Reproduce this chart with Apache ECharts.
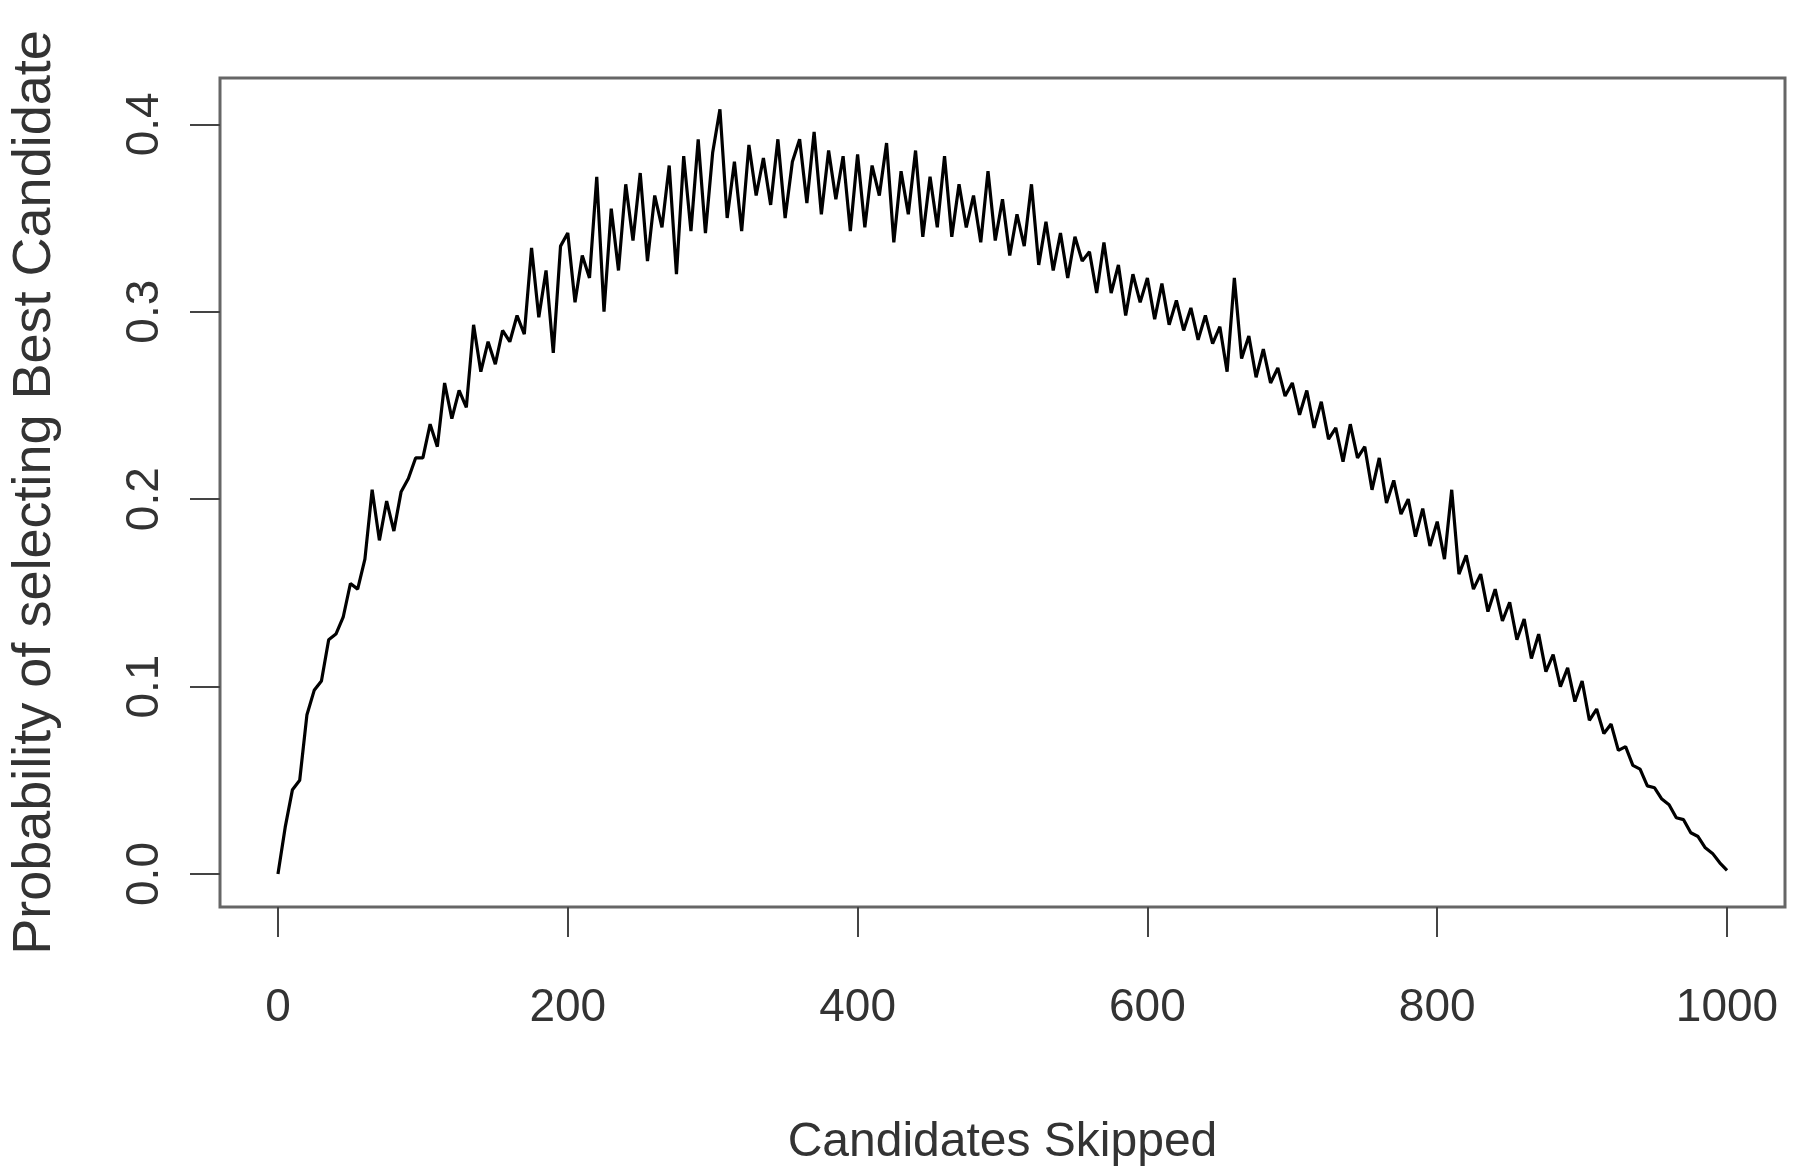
<!DOCTYPE html>
<html>
<head>
<meta charset="utf-8">
<script src="https://cdn.jsdelivr.net/npm/echarts@6/dist/echarts.min.js"></script>
<style>
  html, body { margin: 0; padding: 0; background: #fff; }
  #chart { width: 1799px; height: 1172px; }
</style>
</head>
<body>
<div id="chart"></div>
<script>
// Candidates skipped: every 5 from 0 to 1000
const skipStep = 5;
// Estimated probability of selecting the best candidate
const probability = [
  0.000, 0.025, 0.045, 0.050, 0.085, 0.098, 0.103, 0.125, 0.128, 0.137,
  0.155, 0.152, 0.168, 0.205, 0.178, 0.199, 0.183, 0.204, 0.211, 0.222,
  0.222, 0.240, 0.228, 0.262, 0.243, 0.258, 0.249, 0.293, 0.268, 0.284,
  0.272, 0.290, 0.284, 0.298, 0.288, 0.334, 0.297, 0.322, 0.278, 0.335,
  0.342, 0.305, 0.330, 0.318, 0.372, 0.300, 0.355, 0.322, 0.368, 0.338,
  0.374, 0.327, 0.362, 0.345, 0.378, 0.320, 0.383, 0.343, 0.392, 0.342,
  0.385, 0.408, 0.350, 0.380, 0.343, 0.389, 0.362, 0.382, 0.357, 0.392,
  0.350, 0.380, 0.392, 0.358, 0.396, 0.352, 0.386, 0.360, 0.383, 0.343,
  0.384, 0.345, 0.378, 0.362, 0.390, 0.337, 0.375, 0.352, 0.386, 0.340,
  0.372, 0.345, 0.383, 0.340, 0.368, 0.345, 0.362, 0.337, 0.375, 0.338,
  0.360, 0.330, 0.352, 0.335, 0.368, 0.325, 0.348, 0.322, 0.342, 0.318,
  0.340, 0.327, 0.332, 0.310, 0.337, 0.310, 0.325, 0.298, 0.320, 0.305,
  0.318, 0.296, 0.315, 0.293, 0.306, 0.290, 0.302, 0.285, 0.298, 0.283,
  0.292, 0.268, 0.318, 0.275, 0.287, 0.265, 0.280, 0.262, 0.270, 0.255,
  0.262, 0.245, 0.258, 0.238, 0.252, 0.232, 0.238, 0.220, 0.240, 0.222,
  0.228, 0.205, 0.222, 0.198, 0.210, 0.192, 0.200, 0.180, 0.195, 0.175,
  0.188, 0.168, 0.205, 0.160, 0.170, 0.152, 0.160, 0.140, 0.152, 0.135,
  0.145, 0.125, 0.136, 0.115, 0.128, 0.108, 0.117, 0.100, 0.110, 0.092,
  0.103, 0.082, 0.088, 0.075, 0.080, 0.066, 0.068, 0.058, 0.056, 0.047,
  0.046, 0.040, 0.037, 0.030, 0.029, 0.022, 0.020, 0.014, 0.011, 0.006,
  0.002
];
const xTicks = [0, 200, 400, 600, 800, 1000];
const yTicks = [0.0, 0.1, 0.2, 0.3, 0.4];

const points = probability.map((p, i) => [i * skipStep, p]);

const chart = echarts.init(document.getElementById('chart'), null, { renderer: 'canvas' });
const font = 'Liberation Sans, Arial, sans-serif';
chart.setOption({
  animation: false,
  backgroundColor: '#ffffff',
  grid: {
    left: 219, right: 14, top: 78, bottom: 263,
    show: true, borderColor: '#666666', borderWidth: 3, backgroundColor: '#ffffff'
  },
  xAxis: {
    type: 'value',
    min: -40, max: 1040,
    name: 'Candidates Skipped',
    nameLocation: 'middle',
    nameGap: 212,
    nameTextStyle: { fontFamily: font, fontSize: 48, color: '#333' },
    axisLine: { show: false, onZero: false },
    splitLine: { show: false },
    axisTick: { show: true, length: 30, inside: false, customValues: xTicks, lineStyle: { color: '#444', width: 2 } },
    axisLabel: { customValues: xTicks, margin: 78, fontFamily: font, fontSize: 46, color: '#333',
      formatter: v => String(v) }
  },
  yAxis: {
    type: 'value',
    min: -0.0176, max: 0.4247,
    name: 'Probability of selecting Best Candidate',
    nameLocation: 'middle',
    nameGap: 158,
    nameTextStyle: { fontFamily: font, fontSize: 54, color: '#333' },
    axisLine: { show: false, onZero: false },
    splitLine: { show: false },
    axisTick: { show: true, length: 30, inside: false, customValues: yTicks, lineStyle: { color: '#444', width: 2 } },
    axisLabel: {
      customValues: yTicks, rotate: 90, margin: 52, fontFamily: font, fontSize: 46, color: '#333',
      formatter: v => v.toFixed(1)
    }
  },
  series: [{
    type: 'line',
    data: points,
    showSymbol: false,
    lineStyle: { color: '#000000', width: 3.2 },
    z: 3
  }]
});
</script>
</body>
</html>
